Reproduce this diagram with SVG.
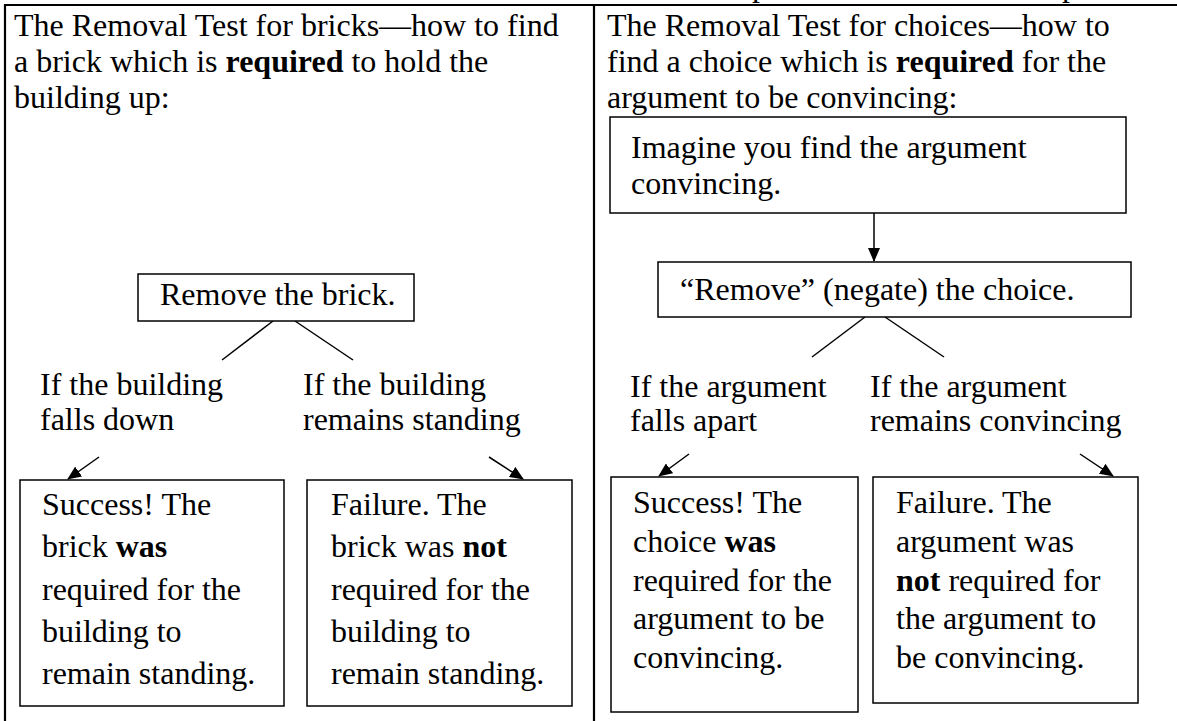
<svg xmlns="http://www.w3.org/2000/svg" width="1177" height="721" viewBox="0 0 1177 721">
<style>
text{font-family:"Liberation Serif","Times New Roman",serif;font-size:32px;fill:#000}
.b{font-weight:bold}
.box{fill:#fff;stroke:#000;stroke-width:1.5}
.tbl{stroke:#000;stroke-width:2.2;fill:none}
.ln{stroke:#000;stroke-width:1.5;fill:none}
</style>
<defs>
<marker id="ah" markerWidth="14" markerHeight="12" refX="13" refY="6" orient="auto" markerUnits="userSpaceOnUse">
<path d="M0,0 L14,6 L0,12 z" fill="#000"/>
</marker>
</defs>
<rect width="1177" height="721" fill="#fff"/>
<g id="table">
<text x="752" y="-4">p</text>
<text x="1062" y="-4">p</text>
<line class="tbl" x1="4" y1="5" x2="1177" y2="5"/>
<line class="tbl" x1="5" y1="4" x2="5" y2="721"/>
<line class="tbl" x1="594" y1="4" x2="594" y2="721"/>
</g>
<g id="title-left">
<text x="14" y="36">The Removal Test for bricks—how to find</text>
<text x="14" y="72">a brick which is <tspan class="b">required</tspan> to hold the</text>
<text x="14" y="108">building up:</text>
</g>
<g id="title-right">
<text x="607" y="36">The Removal Test for choices—how to</text>
<text x="607" y="72">find a choice which is <tspan class="b">required</tspan> for the</text>
<text x="607" y="108">argument to be convincing:</text>
</g>
<g id="connectors">
<line class="ln" x1="273" y1="321" x2="222" y2="360"/>
<line class="ln" x1="295" y1="321" x2="353" y2="360"/>
<line class="ln" x1="99" y1="457" x2="68" y2="479" marker-end="url(#ah)"/>
<line class="ln" x1="489" y1="457" x2="523" y2="479" marker-end="url(#ah)"/>
<line class="ln" x1="874" y1="213" x2="874" y2="261" marker-end="url(#ah)"/>
<line class="ln" x1="865" y1="317" x2="812" y2="357"/>
<line class="ln" x1="885" y1="317" x2="944" y2="357"/>
<line class="ln" x1="689" y1="454" x2="659" y2="476" marker-end="url(#ah)"/>
<line class="ln" x1="1080" y1="454" x2="1113" y2="476" marker-end="url(#ah)"/>
</g>
<g id="remove-brick">
<rect class="box" x="138" y="274" width="276" height="47"/>
<text x="160" y="305">Remove the brick.</text>
</g>
<g id="label-falls-down">
<text x="40" y="395">If the building</text>
<text x="40" y="430">falls down</text>
</g>
<g id="label-remains-standing">
<text x="303" y="395">If the building</text>
<text x="303" y="430">remains standing</text>
</g>
<g id="success-brick">
<rect class="box" x="20" y="480" width="264" height="226"/>
<text x="42" y="515">Success! The</text>
<text x="42" y="557">brick <tspan class="b">was</tspan></text>
<text x="42" y="600">required for the</text>
<text x="42" y="642">building to</text>
<text x="42" y="684">remain standing.</text>
</g>
<g id="failure-brick">
<rect class="box" x="307" y="480" width="265" height="226"/>
<text x="331" y="515">Failure. The</text>
<text x="331" y="557">brick was <tspan class="b">not</tspan></text>
<text x="331" y="600">required for the</text>
<text x="331" y="642">building to</text>
<text x="331" y="684">remain standing.</text>
</g>
<g id="imagine">
<rect class="box" x="610" y="117" width="516" height="96"/>
<text x="631" y="158">Imagine you find the argument</text>
<text x="631" y="194">convincing.</text>
</g>
<g id="negate-choice">
<rect class="box" x="658" y="262" width="473" height="55"/>
<text x="680" y="300">“Remove” (negate) the choice.</text>
</g>
<g id="label-falls-apart">
<text x="630" y="397">If the argument</text>
<text x="630" y="431">falls apart</text>
</g>
<g id="label-remains-convincing">
<text x="870" y="397">If the argument</text>
<text x="870" y="431">remains convincing</text>
</g>
<g id="success-choice">
<rect class="box" x="611" y="477" width="247" height="235"/>
<text x="633" y="513">Success! The</text>
<text x="633" y="552">choice <tspan class="b">was</tspan></text>
<text x="633" y="591">required for the</text>
<text x="633" y="629">argument to be</text>
<text x="633" y="668">convincing.</text>
</g>
<g id="failure-choice">
<rect class="box" x="873" y="477" width="265" height="226"/>
<text x="896" y="513">Failure. The</text>
<text x="896" y="552">argument was</text>
<text x="896" y="591"><tspan class="b">not</tspan> required for</text>
<text x="896" y="629">the argument to</text>
<text x="896" y="668">be convincing.</text>
</g>
</svg>
